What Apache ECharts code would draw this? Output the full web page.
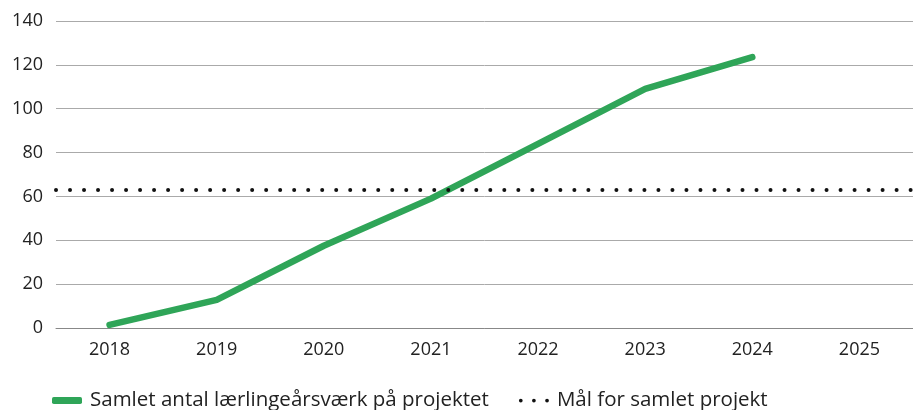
<!DOCTYPE html>
<html>
<head>
<meta charset="utf-8">
<script src="https://cdn.jsdelivr.net/npm/echarts@6/dist/echarts.min.js"></script>
<style>
  html, body { margin: 0; padding: 0; background: #fff; }
  #chart { width: 913px; height: 410px; }
</style>
</head>
<body>
<div id="chart"></div>
<script>
// ---------- data ----------
const years = ['2018', '2019', '2020', '2021', '2022', '2023', '2024', '2025'];
const apprenticeYears = [1.4, 12.8, 37.5, 59, 84, 109, 123.5, null];
const targetValue = 63;
const seriesNames = ['Samlet antal lærlingeårsværk på projektet', 'Mål for samlet projekt'];

// ---------- chart ----------
const chart = echarts.init(document.getElementById('chart'));
const font = '"Open Sans", Roboto, sans-serif';

// three dots for the target legend icon
const dotsIcon = 'path://M0,4a4,4 0 1,0 8,0a4,4 0 1,0 -8,0z M28,4a4,4 0 1,0 8,0a4,4 0 1,0 -8,0z M56,4a4,4 0 1,0 8,0a4,4 0 1,0 -8,0z';

chart.setOption({
  backgroundColor: '#ffffff',
  animation: false,
  textStyle: { fontFamily: font, color: '#222' },
  grid: { left: 56, right: 0, top: 21, bottom: 82 },
  legend: {
    left: 52,
    top: 390,
    padding: 0,
    itemGap: 30,
    itemWidth: 30,
    itemHeight: 7,
    textStyle: { fontFamily: font, fontSize: 20.5, color: '#222', padding: [0, 0, 0, 3] },
    data: [
      { name: seriesNames[0], icon: 'roundRect', itemStyle: { color: '#2fa558' } },
      { name: seriesNames[1], icon: dotsIcon, itemStyle: { color: '#111' } }
    ]
  },
  xAxis: {
    type: 'category',
    data: years,
    boundaryGap: true,
    axisLine: { show: true, lineStyle: { color: '#888', width: 1 } },
    axisTick: { show: false },
    axisLabel: { fontFamily: font, fontSize: 18, color: '#222', margin: 13 }
  },
  yAxis: {
    type: 'value',
    min: 0,
    max: 140,
    interval: 20,
    axisLine: { show: false },
    axisTick: { show: false },
    axisLabel: { fontFamily: font, fontSize: 18, color: '#222', margin: 13 },
    splitLine: { lineStyle: { color: '#aaa', width: 1 } }
  },
  series: [
    {
      name: seriesNames[0],
      type: 'line',
      data: apprenticeYears,
      showSymbol: false,
      symbol: 'none',
      color: '#2fa558',
      lineStyle: { color: '#2fa558', width: 6.5, cap: 'round', join: 'round' },
      z: 3
    },
    {
      name: seriesNames[1],
      type: 'line',
      data: [],
      color: '#111',
      symbol: 'none',
      markLine: {
        silent: true,
        symbol: ['none', 'none'],
        label: { show: false },
        lineStyle: { color: '#111', width: 4, type: [0.01, 14], cap: 'round' },
        data: [{ yAxis: targetValue }]
      }
    }
  ]
});
</script>
</body>
</html>
